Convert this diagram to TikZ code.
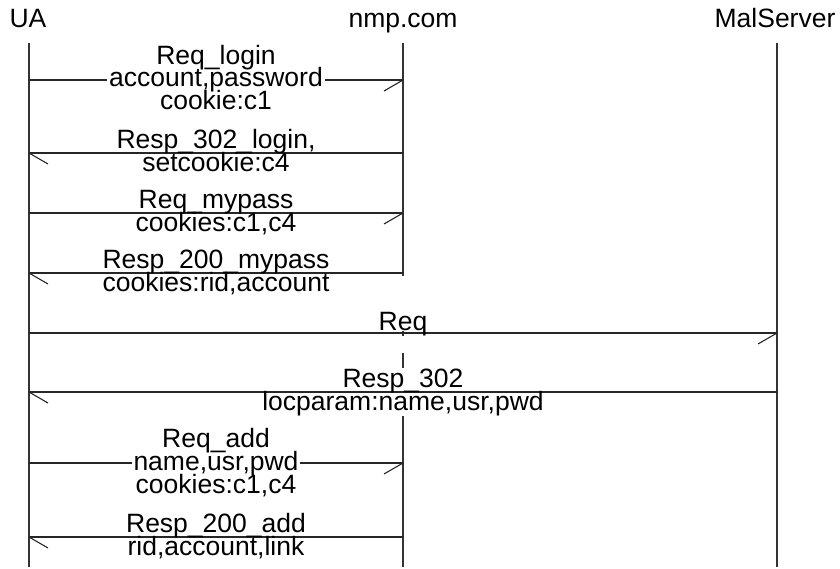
\documentclass[tikz,border=0pt]{standalone}
\usepackage{fontspec}
\setmainfont{Liberation Sans}
\begin{document}
\begin{tikzpicture}[x=1pt,y=-1pt,
  life/.style={line width=1.6pt, draw=black!80},
  msg/.style={line width=1.3pt, draw=black!85},
  barb/.style={line width=1.1pt, draw=black!85},
  lbl/.style={anchor=base, inner sep=0pt, font=\fontsize{26.5}{28}\selectfont},
  knock/.style={lbl, fill=white, inner xsep=2pt, inner ysep=0pt, text height=15pt, text depth=0pt}]
\useasboundingbox (0,0) rectangle (840,569);
% headers
\node[lbl] (hUA) at (28,28) {UA};
\node[lbl] (hNMP) at (403,28) {nmp.com};
\node[lbl] (hMAL) at (775,28) {MalServer};
% lifeline ends
\coordinate (uaT) at (29,43);  \coordinate (uaB) at (29,567);
\coordinate (nmT) at (403,43); \coordinate (nmB) at (403,567);
\coordinate (maT) at (777,43); \coordinate (maB) at (777,567);
\draw[life] (uaT) -- (uaB);
\draw[life] (maT) -- (maB);
% nmp.com lifeline, partly hidden behind the long labels
\coordinate (nm1) at (403,276); \coordinate (nm2) at (403,331);
\coordinate (nm3) at (403,336); \coordinate (nm4) at (403,353);
\coordinate (nm5) at (403,368); \coordinate (nm6) at (403,416);
\draw[life] (nmT) -- (nm1);
\draw[life] (nm2) -- (nm3);
\draw[life] (nm4) -- (nm5);
\draw[life] (nm6) -- (nmB);
% message anchor points
\coordinate (a1) at (29,80);  \coordinate (b1) at (403,80);
\coordinate (a2) at (29,153); \coordinate (b2) at (403,153);
\coordinate (a3) at (29,213); \coordinate (b3) at (403,213);
\coordinate (a4) at (29,273); \coordinate (b4) at (403,273);
\coordinate (a5) at (29,333); \coordinate (c5) at (777,333);
\coordinate (a6) at (29,392); \coordinate (c6) at (777,392);
\coordinate (a7) at (29,463); \coordinate (b7) at (403,463);
\coordinate (a8) at (29,537); \coordinate (b8) at (403,537);
% arrows
\draw[msg] (a1) -- (b1); \draw[barb] (b1) -- ++(-19,11);
\draw[msg] (b2) -- (a2); \draw[barb] (a2) -- ++(19,11);
\draw[msg] (a3) -- (b3); \draw[barb] (b3) -- ++(-19,11);
\draw[msg] (b4) -- (a4); \draw[barb] (a4) -- ++(19,11);
\draw[msg] (a5) -- (c5); \draw[barb] (c5) -- ++(-19,11);
\draw[msg] (c6) -- (a6); \draw[barb] (a6) -- ++(19,11);
\draw[msg] (a7) -- (b7); \draw[barb] (b7) -- ++(-19,11);
\draw[msg] (b8) -- (a8); \draw[barb] (a8) -- ++(19,11);
% labels
\node[lbl]   (m1a) at (216,65)    {Req\_login};
\node[knock] (m1b) at (216,87)    {account,password};
\node[lbl]   (m1c) at (216,110)   {cookie:c1};
\node[lbl]   (m2a) at (216,148.5) {Resp\_302\_login,};
\node[lbl]   (m2b) at (216,171.5) {setcookie:c4};
\node[lbl]   (m3a) at (216,208.5) {Req\_mypass};
\node[lbl]   (m3b) at (216,231.5) {cookies:c1,c4};
\node[lbl]   (m4a) at (216,268.5) {Resp\_200\_mypass};
\node[lbl]   (m4b) at (216,291.5) {cookies:rid,account};
\node[lbl]   (m5a) at (403,330)   {Req};
\node[lbl]   (m6a) at (403,387.5) {Resp\_302};
\node[lbl]   (m6b) at (403,410.5) {locparam:name,usr,pwd};
\node[lbl]   (m7a) at (216,447)   {Req\_add};
\node[knock] (m7b) at (216,470)   {name,usr,pwd};
\node[lbl]   (m7c) at (216,493)   {cookies:c1,c4};
\node[lbl]   (m8a) at (216,532.5) {Resp\_200\_add};
\node[lbl]   (m8b) at (216,555.5) {rid,account,link};
\end{tikzpicture}
\end{document}
